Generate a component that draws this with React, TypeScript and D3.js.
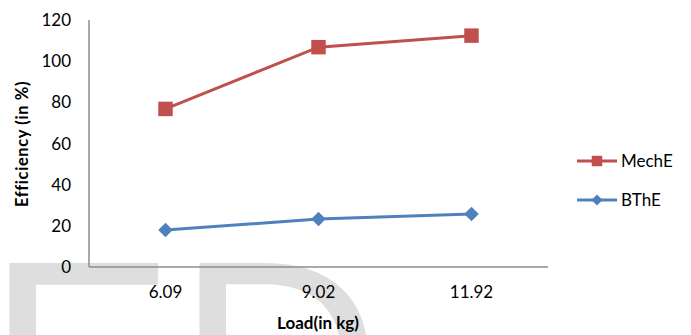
import React from "react";
import * as d3 from "d3";

const categories = ["6.09", "9.02", "11.92"];
const mechE = [76.8, 106.8, 112.4];
const bthE = [18.0, 23.3, 25.8];
const yTicks = [0, 20, 40, 60, 80, 100, 120];
const seriesNames = ["MechE", "BThE"];

const W = 691;
const H = 335;
const RED = "#C0504D";
const BLUE = "#4F81BD";
const FONT = "Lato, 'Open Sans', sans-serif";

export default function App() {
  const x = d3.scaleBand<string>().domain(categories).range([89, 548]);
  const y = d3.scaleLinear().domain([0, 120]).range([267, 20]);
  const cx = (c: string) => (x(c) as number) + x.bandwidth() / 2;
  const line = d3
    .line<number>()
    .x((_, i) => cx(categories[i]))
    .y((d) => y(d));
  const sq = d3.symbol().type(d3.symbolSquare).size(210)();
  const dia = d3.symbol().type(d3.symbolSquare).size(105)();
  const sqL = d3.symbol().type(d3.symbolSquare).size(110)();
  const diaL = d3.symbol().type(d3.symbolSquare).size(60)();

  return (
    <svg
      width={W}
      height={H}
      style={{ position: "absolute", left: 0, top: 0, background: "#fff" }}
    >
      <text
        x={-14}
        y={459}
        fontFamily="'Liberation Sans', Arial, sans-serif"
        fontSize={285}
        fill="#dedede"
      >
        ED
      </text>
      <line x1={89} x2={89} y1={20} y2={267} stroke="#8c8c8c" strokeWidth={1.5} />
      <line x1={89} x2={548} y1={267} y2={267} stroke="#8c8c8c" strokeWidth={1.5} />
      {yTicks.map((t) => (
        <text
          key={t}
          x={71}
          y={y(t)}
          dy="0.36em"
          textAnchor="end"
          fontFamily={FONT}
          fontSize={17}
          fill="#000"
        >
          {t}
        </text>
      ))}
      {categories.map((c) => (
        <text
          key={c}
          x={cx(c)}
          y={292}
          dy="0.36em"
          textAnchor="middle"
          fontFamily={FONT}
          fontSize={17}
          fill="#000"
        >
          {c}
        </text>
      ))}
      <text
        x={318}
        y={323}
        dy="0.36em"
        textAnchor="middle"
        fontFamily={FONT}
        fontSize={17}
        fontWeight="bold"
        fill="#000"
      >
        Load(in kg)
      </text>
      <text
        transform="translate(22,144) rotate(-90)"
        dy="0.36em"
        textAnchor="middle"
        fontFamily={FONT}
        fontSize={16.5}
        fontWeight="bold"
        letterSpacing={0.6}
        fill="#000"
      >
        Efficiency (in %)
      </text>
      <path d={line(mechE) || ""} fill="none" stroke={RED} strokeWidth={3} />
      {mechE.map((v, i) => (
        <path key={i} d={sq || ""} transform={`translate(${cx(categories[i])},${y(v)})`} fill={RED} />
      ))}
      <path d={line(bthE) || ""} fill="none" stroke={BLUE} strokeWidth={3} />
      {bthE.map((v, i) => (
        <path
          key={i}
          d={dia || ""}
          transform={`translate(${cx(categories[i])},${y(v)}) rotate(45)`}
          fill={BLUE}
        />
      ))}
      {seriesNames.map((n, i) => {
        const ly = 161 + i * 39;
        const col = i === 0 ? RED : BLUE;
        return (
          <g key={n}>
            <line x1={577} x2={617} y1={ly} y2={ly} stroke={col} strokeWidth={3} />
            <path
              d={(i === 0 ? sqL : diaL) || ""}
              transform={`translate(597,${ly})${i === 1 ? " rotate(45)" : ""}`}
              fill={col}
            />
            <text x={621} y={ly} dy="0.36em" fontFamily={FONT} fontSize={17} fill="#000">
              {n}
            </text>
          </g>
        );
      })}
    </svg>
  );
}
